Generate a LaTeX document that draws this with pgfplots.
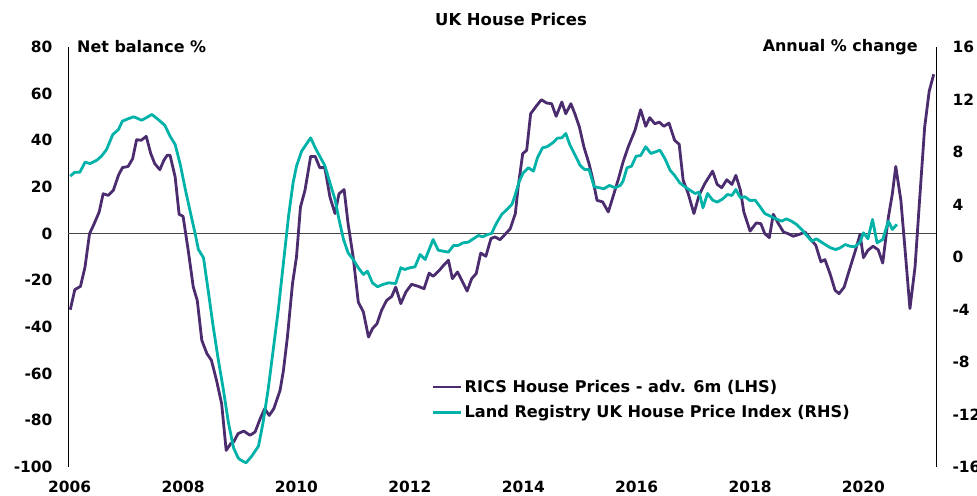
\documentclass[border=0pt]{standalone}
\usepackage{fontspec}
\setmainfont{DejaVu Sans}
\usepackage{pgfplots}
\pgfplotsset{compat=1.18}
\definecolor{rics}{RGB}{75,44,110}
\definecolor{lr}{RGB}{0,178,168}
\definecolor{zeroline}{RGB}{70,70,70}

\pgfplotstableread{
x y
2006.01 -32.6
2006.09 -24
2006.19 -22.6
2006.27 -14.3
2006.35 0
2006.42 3.6
2006.52 9.3
2006.59 17.1
2006.68 16.4
2006.77 18.6
2006.86 25
2006.93 28.3
2007.03 28.8
2007.11 32.1
2007.18 40.3
2007.26 40
2007.35 41.7
2007.43 34.3
2007.50 30
2007.59 27.4
2007.66 31.4
2007.72 33.6
2007.77 33.6
2007.86 24.3
2007.93 8.3
2008.00 7.4
2008.09 -7.1
2008.18 -22.9
2008.25 -28.6
2008.33 -45.7
2008.42 -51.4
2008.50 -54.3
2008.59 -62.9
2008.68 -72.9
2008.76 -92.9
2008.84 -90
2008.89 -89.3
2008.97 -85.7
2009.07 -84.6
2009.18 -86.4
2009.27 -85
2009.36 -79.3
2009.44 -75
2009.52 -77.9
2009.60 -75
2009.71 -67.2
2009.77 -58.6
2009.84 -44.3
2009.93 -21.4
2010.00 -10
2010.07 11.4
2010.15 18.6
2010.25 33.1
2010.33 33.1
2010.41 28.3
2010.50 28.3
2010.59 15.7
2010.68 8.6
2010.75 17.1
2010.84 18.9
2010.91 4.3
2011.00 -10
2011.09 -29.3
2011.18 -33.6
2011.27 -44.3
2011.34 -40.7
2011.42 -38.6
2011.50 -32.9
2011.59 -28.6
2011.68 -26.9
2011.75 -22.9
2011.84 -30
2011.93 -25
2012.03 -21.7
2012.15 -22.6
2012.25 -23.6
2012.34 -16.9
2012.41 -18.3
2012.52 -15.7
2012.59 -13.7
2012.68 -11.4
2012.75 -19.3
2012.84 -16.4
2012.93 -20.7
2013.01 -24.6
2013.09 -19.3
2013.17 -17.1
2013.25 -8.3
2013.34 -9.7
2013.43 -2.1
2013.50 -1.4
2013.59 -2.6
2013.68 -0.3
2013.77 2.1
2013.86 8.6
2013.91 20
2013.99 34.3
2014.06 35.7
2014.13 51.4
2014.24 55
2014.32 57.4
2014.41 56
2014.50 55.7
2014.58 50.3
2014.68 56.4
2014.75 51.4
2014.84 55.7
2014.91 51.4
2014.99 45.7
2015.07 37.1
2015.16 30
2015.23 22.9
2015.30 14.3
2015.40 13.6
2015.50 9.3
2015.59 16.4
2015.68 23.6
2015.76 30.7
2015.85 37.1
2015.97 44.3
2016.07 53.1
2016.16 46
2016.23 49.7
2016.32 47.1
2016.40 47.8
2016.48 46
2016.57 47.4
2016.67 40
2016.75 38.3
2016.82 22.9
2016.91 17.1
2017.01 8.6
2017.10 16.4
2017.20 21.4
2017.34 26.8
2017.42 21.1
2017.50 19.7
2017.59 23.1
2017.68 21.1
2017.75 25
2017.83 18.6
2017.89 9.3
2018.00 1.1
2018.11 4.6
2018.19 4.3
2018.26 0
2018.34 -1.7
2018.41 8.3
2018.50 4.3
2018.59 0.7
2018.67 0
2018.76 -1.1
2018.87 -0.3
2018.97 0.7
2019.06 -2.1
2019.16 -5
2019.25 -12.1
2019.32 -11.1
2019.41 -17.1
2019.50 -24.3
2019.57 -25.7
2019.66 -22.9
2019.75 -15.7
2019.85 -7.9
2019.94 -0.3
2020.00 -10.3
2020.08 -7.1
2020.17 -5.4
2020.26 -6.9
2020.34 -12.6
2020.44 7.1
2020.51 17.1
2020.57 28.8
2020.66 14.3
2020.73 -5.7
2020.82 -32.1
2020.91 -14.3
2020.99 14.3
2021.08 45.7
2021.16 61.1
2021.24 68.3
}\ricsdata

\pgfplotstableread{
x y
2006.01 6.16
2006.09 6.46
2006.18 6.46
2006.27 7.22
2006.36 7.12
2006.48 7.38
2006.56 7.68
2006.65 8.19
2006.76 9.33
2006.86 9.71
2006.93 10.35
2007.03 10.53
2007.13 10.68
2007.27 10.42
2007.35 10.61
2007.45 10.86
2007.56 10.48
2007.68 10.02
2007.77 9.2
2007.86 8.57
2007.95 7.05
2008.04 5.14
2008.13 3.37
2008.21 1.84
2008.27 0.57
2008.36 -0.06
2008.44 -2.48
2008.53 -5.27
2008.62 -7.81
2008.71 -10.1
2008.80 -12.63
2008.89 -14.54
2008.97 -15.3
2009.00 -15.43
2009.11 -15.68
2009.21 -15.18
2009.33 -14.41
2009.41 -12.63
2009.50 -10.1
2009.59 -7.05
2009.68 -4.0
2009.77 -0.44
2009.86 3.11
2009.94 5.65
2010.00 6.92
2010.09 8.06
2010.17 8.57
2010.25 9.08
2010.33 8.32
2010.41 7.68
2010.50 6.97
2010.59 5.65
2010.68 4.38
2010.75 2.86
2010.83 1.33
2010.91 0.32
2011.00 -0.19
2011.09 -0.82
2011.18 -1.33
2011.25 -1.08
2011.34 -1.97
2011.43 -2.27
2011.52 -2.1
2011.62 -1.97
2011.75 -2.02
2011.84 -0.82
2011.91 -0.95
2012.00 -0.82
2012.09 -0.75
2012.18 0.19
2012.27 -0.19
2012.34 0.57
2012.41 1.33
2012.50 0.52
2012.59 0.44
2012.68 0.37
2012.77 0.88
2012.85 0.88
2012.94 1.08
2013.03 1.13
2013.12 1.39
2013.21 1.64
2013.28 1.54
2013.37 1.71
2013.44 1.79
2013.53 2.6
2013.62 3.24
2013.71 3.62
2013.80 4.0
2013.85 4.63
2013.93 5.78
2014.00 6.42
2014.09 6.8
2014.18 6.54
2014.25 7.56
2014.34 8.32
2014.42 8.4
2014.52 8.7
2014.60 9.05
2014.68 9.08
2014.75 9.41
2014.82 8.57
2014.91 7.8
2015.00 7.0
2015.08 6.67
2015.16 6.67
2015.25 5.35
2015.35 5.27
2015.42 5.2
2015.52 5.45
2015.62 5.27
2015.71 5.45
2015.76 5.78
2015.83 6.8
2015.91 6.92
2015.99 7.68
2016.07 7.73
2016.16 8.4
2016.25 7.89
2016.32 7.99
2016.41 8.14
2016.50 7.48
2016.59 6.61
2016.67 6.21
2016.76 5.65
2016.85 5.35
2016.94 5.09
2017.03 4.84
2017.10 4.94
2017.17 3.75
2017.25 4.84
2017.34 4.33
2017.42 4.18
2017.52 4.43
2017.60 4.76
2017.68 4.69
2017.75 5.14
2017.83 4.51
2017.91 4.59
2018.00 4.3
2018.09 4.33
2018.17 3.87
2018.26 3.31
2018.36 3.11
2018.45 2.91
2018.56 2.73
2018.64 2.91
2018.73 2.73
2018.82 2.48
2018.91 2.1
2019.00 1.64
2019.09 1.2
2019.17 1.39
2019.26 1.13
2019.35 0.88
2019.42 0.7
2019.51 0.57
2019.59 0.7
2019.68 0.95
2019.76 0.82
2019.85 0.78
2019.94 1.13
2020.00 1.84
2020.08 1.39
2020.16 2.86
2020.24 1.08
2020.34 1.33
2020.44 2.73
2020.51 2.1
2020.59 2.48
}\lrdata

\begin{document}
\begin{tikzpicture}[x=1bp,y=1bp]
\path[use as bounding box] (0,0) rectangle (977,496);
\node[font=\bfseries\fontsize{16.5}{19}\selectfont] at (511,477) {UK House Prices};
\begin{axis}[
  at={(68bp,29bp)}, anchor=south west,
  width=868bp, height=420bp, scale only axis,
  xmin=2005.97, xmax=2021.28, ymin=-100, ymax=80,
  axis x line*=bottom, axis y line*=left,
  x axis line style={draw=none},
  y axis line style={-, black, line width=1bp},
  xtick={2006,2008,...,2020},
  ytick={-100,-80,...,80},
  major tick length=0pt,
  /pgf/number format/1000 sep={},
  /pgf/number format/assume math mode=true,
  ticklabel style={font=\bfseries\fontsize{15.5}{18}\selectfont},
  xticklabel style={yshift=-11bp},
  yticklabel style={xshift=-12bp},
  extra y ticks={0}, extra y tick labels={},
  extra y tick style={grid=major, major grid style={zeroline, line width=1.2bp}},
  clip=false,
  legend style={at={(rel axis cs:0.419,0.212)}, anchor=north west, draw=none, fill=none,
    font=\bfseries\fontsize{16.2}{19}\selectfont, inner sep=0pt, row sep=7.5bp,
    /tikz/every even column/.append style={column sep=2bp}},
  legend cell align=left,
  legend image code/.code={\draw[#1] (0bp,0bp) -- (28bp,0bp);},
]
\addplot[rics, line width=2.8bp, line join=round] table {\ricsdata};
\addlegendentry{RICS House Prices - adv. 6m (LHS)}
\addlegendimage{lr, line width=2.8bp}
\addlegendentry{Land Registry UK House Price Index (RHS)}
\node[anchor=west, inner sep=0pt, font=\bfseries\fontsize{16}{19}\selectfont] at (rel axis cs:0.0104,1) {Net balance \%};
\node[anchor=east, inner sep=0pt, font=\bfseries\fontsize{16}{19}\selectfont] at (rel axis cs:0.979,1) {Annual \% change};
\end{axis}
\begin{axis}[
  at={(68bp,29bp)}, anchor=south west,
  width=868bp, height=420bp, scale only axis,
  xmin=2005.97, xmax=2021.28, ymin=-16, ymax=16,
  axis x line=none, axis y line*=right,
  y axis line style={-, black, line width=1bp},
  ytick={-16,-12,...,16},
  major tick length=0pt,
  /pgf/number format/assume math mode=true,
  ticklabel style={font=\bfseries\fontsize{15.5}{18}\selectfont},
  yticklabel style={xshift=13bp},
]
\addplot[lr, line width=2.8bp, line join=round] table {\lrdata};
\end{axis}
\end{tikzpicture}
\end{document}
